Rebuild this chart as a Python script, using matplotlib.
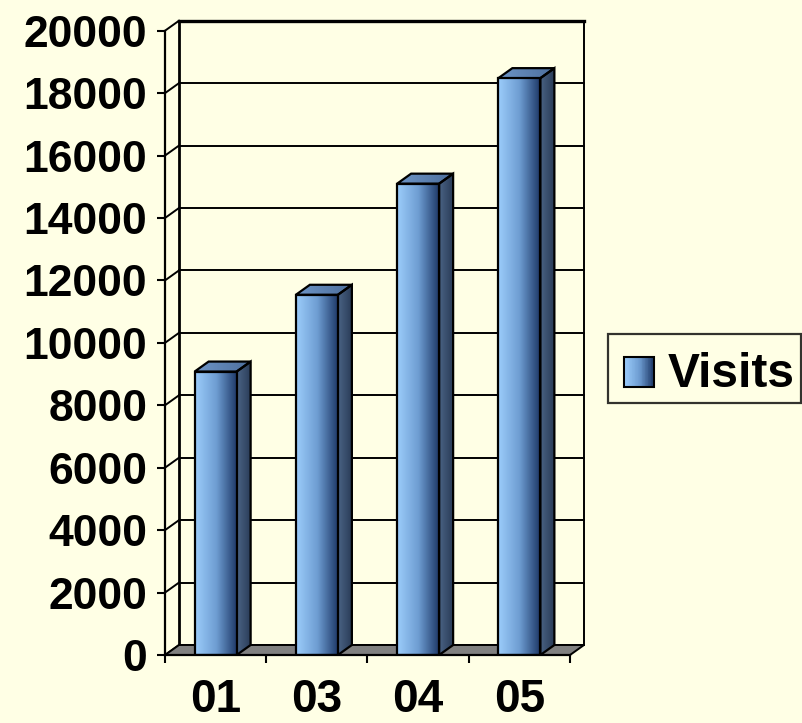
import matplotlib
matplotlib.use("Agg")
import matplotlib.pyplot as plt
import numpy as np
from matplotlib.patches import Polygon, Rectangle, Patch
from matplotlib.colors import LinearSegmentedColormap
from matplotlib.legend_handler import HandlerBase

# ---- data ----
categories = ["01", "03", "04", "05"]
visits = [9080, 11540, 15100, 18480]
series_name = "Visits"
y_ticks = list(range(0, 20001, 2000))

BG = "#FFFFE5"
FONT = "Liberation Sans"

front_cmap = LinearSegmentedColormap.from_list(
    "front", ["#9CCDFB", "#6E9DD2", "#1B3564"])
side_cmap = LinearSegmentedColormap.from_list(
    "side", ["#4A6384", "#2A3C58"])
top_cmap = LinearSegmentedColormap.from_list(
    "top", ["#6E95C6", "#4C6E9C"])

W, H, DPI = 803, 723, 100
PX = 72 / DPI  # points per pixel
fig = plt.figure(figsize=(W / DPI, H / DPI), dpi=DPI, facecolor=BG)
ax = fig.add_axes([165 / W, 1 - 655 / H, 405 / W, (655 - 30.7) / H])
ax.set_xlim(0, len(categories))
ax.set_ylim(0, y_ticks[-1])
ax.patch.set_visible(False)

# depth offset (pixels -> data units)
depth_px = (14, 10)
p0 = ax.transData.transform((0, 0))
d = ax.transData.inverted().transform(p0 + np.array(depth_px))
DX, DY = d[0], d[1]

# ---- axes, ticks, labels ----
for s in ["top", "right"]:
    ax.spines[s].set_visible(False)
for s in ["left", "bottom"]:
    ax.spines[s].set_linewidth(1.6)
    ax.spines[s].set_color("black")
    ax.spines[s].set_zorder(6)

ax.set_yticks(y_ticks)
ax.set_yticklabels([str(v) for v in y_ticks], fontsize=32,
                   fontweight="bold", family=FONT)
ax.tick_params(axis="y", length=5.8, width=1.5, pad=7, color="black")
ax.set_xticks(range(len(categories) + 1))
ax.set_xticklabels([""] * (len(categories) + 1))
ax.tick_params(axis="x", which="major", length=5.8, width=1.5, color="black")
ax.set_xticks([i + 0.5 for i in range(len(categories))], minor=True)
ax.set_xticklabels(categories, minor=True, fontsize=33,
                   fontweight="bold", family=FONT)
ax.tick_params(axis="x", which="minor", length=0, pad=16.5)

n = len(categories)
ymax = y_ticks[-1]
# ---- back wall: gridlines, diagonals, edges ----
for v in y_ticks:
    lw = 2.4 if v == ymax else 1.4
    ax.plot([DX, n + DX], [v + DY, v + DY], color="black", lw=lw,
            zorder=1, clip_on=False)
    ax.plot([0, DX], [v, v + DY], color="black", lw=1.4, zorder=1,
            clip_on=False)
ax.plot([DX, DX], [DY, ymax + DY], color="black", lw=2, zorder=1, clip_on=False)
ax.plot([n + DX, n + DX], [DY, ymax + DY], color="black", lw=1.4, zorder=1,
        clip_on=False)

# ---- floor ----
floor = Polygon([[0, 0], [n, 0], [n + DX, DY], [DX, DY]], closed=True,
                facecolor="#808080", edgecolor="black", lw=1.4, zorder=2,
                clip_on=False)
ax.add_patch(floor)

# ---- bars ----
bw = 0.415
grad = np.linspace(0, 1, 256).reshape(1, -1)
for i, v in enumerate(visits):
    x0 = i + 0.5 - bw / 2
    x1 = x0 + bw
    # side face
    side = Polygon([[x1, 0], [x1 + DX, DY], [x1 + DX, v + DY], [x1, v]],
                   closed=True, facecolor="none", edgecolor="black",
                   lw=1.6, zorder=4)
    ax.add_patch(side)
    im = ax.imshow(grad, cmap=side_cmap, aspect="auto",
                   extent=[x1, x1 + DX, 0, v + DY], zorder=3,
                   interpolation="bilinear")
    im.set_clip_path(side)
    # top face
    top = Polygon([[x0, v], [x1, v], [x1 + DX, v + DY], [x0 + DX, v + DY]],
                  closed=True, facecolor="none", edgecolor="black",
                  lw=1.6, zorder=4)
    ax.add_patch(top)
    im = ax.imshow(grad, cmap=top_cmap, aspect="auto",
                   extent=[x0, x1 + DX, v, v + DY], zorder=3,
                   interpolation="bilinear")
    im.set_clip_path(top)

bars = ax.bar([i + 0.5 for i in range(n)], visits, width=bw,
              facecolor="none", edgecolor="black", lw=1.6, zorder=5)
for b in bars:
    x0 = b.get_x()
    im = ax.imshow(grad, cmap=front_cmap, aspect="auto",
                   extent=[x0, x0 + b.get_width(), 0, b.get_height()],
                   zorder=4.5, interpolation="bilinear")
    im.set_clip_path(b)

ax.set_xlim(0, n)
ax.set_ylim(0, ymax)


# ---- legend ----
class GradHandler(HandlerBase):
    def legend_artist(self, legend, orig_handle, fontsize, handlebox):
        # handle box geometry (points): 41px wide, 47px above / 10px below baseline
        handlebox.width = 41 * PX
        handlebox.xdescent = 0
        handlebox.ydescent = 10 * PX
        handlebox.height = 57 * PX
        side_len = 30.5 * PX
        xs = handlebox.width - 31 * PX
        ys = 0.0
        k = 40
        arts = []
        for j in range(k):
            arts.append(Rectangle((xs + side_len * j / k, ys),
                                  side_len / k * 1.05, side_len,
                                  facecolor=front_cmap(j / (k - 1)),
                                  edgecolor="none"))
        arts.append(Rectangle((xs, ys), side_len, side_len,
                              fill=False, edgecolor="black", lw=1.5))
        for a in arts:
            handlebox.add_artist(a)
        return arts[-1]


LEG_FS = 34.5
fs_px = LEG_FS * DPI / 72
handle = Patch(label=series_name)
leg = fig.legend(handles=[handle], handler_map={Patch: GradHandler()},
                 loc="upper left", bbox_to_anchor=(608 / W, 1 - 334 / H),
                 bbox_transform=fig.transFigure, fancybox=False,
                 frameon=True, borderaxespad=0, borderpad=6 / fs_px,
                 handlelength=41 / fs_px, handleheight=1.0,
                 handletextpad=13 / fs_px,
                 prop={"family": FONT, "weight": "bold", "size": LEG_FS})
leg.get_frame().set_edgecolor("black")
leg.get_frame().set_linewidth(1.6)
leg.get_frame().set_facecolor(BG)

fig.savefig("out.png", dpi=DPI, facecolor=BG)
